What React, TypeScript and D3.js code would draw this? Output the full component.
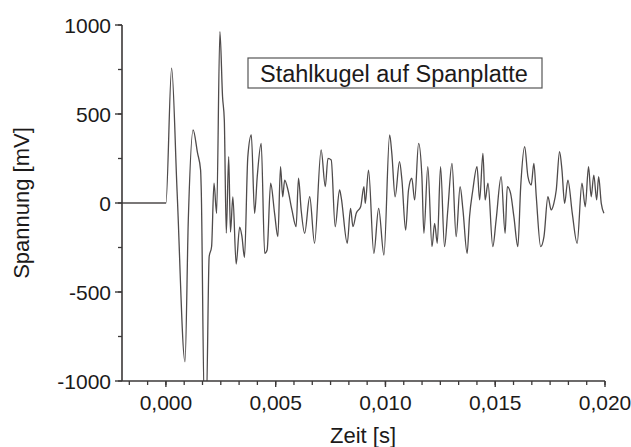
import React from "react";
import * as d3 from "d3";

// Stahlkugel auf Spanplatte – Zeit in ms, Spannung in mV
const timeMs = [
  -2.0, 0, 0.26, 0.51, 0.87, 1.02, 1.24, 1.44, 1.58, 1.61, 1.75, 1.84, 1.97, 2.08,
  2.19, 2.31, 2.46, 2.58, 2.66, 2.75, 2.86, 2.94, 3.05, 3.2, 3.36, 3.46, 3.58, 3.73,
  3.89, 4.04, 4.16, 4.34, 4.5, 4.61, 4.77, 4.95, 5.1, 5.22, 5.32, 5.41, 5.56, 5.74,
  5.93, 6.04, 6.16, 6.32, 6.55, 6.77, 7.07, 7.26, 7.38, 7.53, 7.71, 7.91, 7.98, 8.26,
  8.41, 8.52, 8.67, 8.87, 9.02, 9.08, 9.23, 9.47, 9.69, 9.93, 10.19, 10.29, 10.44,
  10.64, 10.75, 10.92, 11.05, 11.2, 11.33, 11.51, 11.66, 11.75, 11.93, 12.12, 12.24,
  12.36, 12.51, 12.69, 12.84, 13.03, 13.22, 13.4, 13.53, 13.72, 13.83, 13.98, 14.17,
  14.29, 14.44, 14.54, 14.67, 14.89, 15.04, 15.27, 15.45, 15.55, 15.7, 15.85, 16.03,
  16.16, 16.34, 16.49, 16.64, 16.76, 16.87, 17.07, 17.22, 17.4, 17.55, 17.67, 17.78,
  17.93, 18.04, 18.16, 18.31, 18.51, 18.73, 18.95, 19.1, 19.25, 19.37, 19.49, 19.62,
  19.71, 19.83, 19.95,
];

const voltage = [
  0, 0, 757, 63, -892, -96, 410, 281, 185, 73, -1150, -1150, -302, -246,
  112, -58, 962, 597, 466, -169, 260, -163, 34, -343, -135, -185, -306, 258,
  382, -58, 148, 335, -283, -264, 111, -58, -189, 204, 35, 129, 73, -39,
  -133, 139, -39, -170, 35, -226, 298, 92, 251, 242, -133, 73, 35, -226,
  -30, -133, -58, -21, 92, -2, 185, -283, -30, -292, 382, 279, 35,
  232, 129, -152, 73, 139, 17, 335, 148, -170, 204, -245, -114,
  -226, 204, -245, -39, 223, -189, 92, -39, -283, -77, 73, 204,
  17, 279, 17, 111, -245, -96, 148, -170, 92, 54, -77, -245,
  92, 316, 148, 101, 223, 35, -245, -189, 35, -39, -2, 73,
  288, 185, -2, 129, -58, -226, 111, -21, 204, 35, 157, 17,
  148, -2, -58,
];

const yMajor = [-1000, -500, 0, 500, 1000];
const yMinor = d3.range(-1000, 1001, 250);
const xMajor = [0, 0.005, 0.01, 0.015, 0.02];
const xMinor = d3.range(-2, 25).map((k) => (k * 0.005) / 6);

const legendLabel = "Stahlkugel auf Spanplatte";
const xTitle = "Zeit [s]";
const yTitle = "Spannung [mV]";

const width = 631;
const height = 447;
const font = "'Liberation Sans', Arial, sans-serif";
const axisColor = "#3b3838";

const deLocale = d3.formatLocale({
  decimal: ",",
  thousands: ".",
  grouping: [3],
  currency: ["", " €"],
});
const fmtX = deLocale.format(".3f");

const App = () => {
  const x = d3.scaleLinear().domain([-0.002, 0.02]).range([122, 605]);
  const y = d3.scaleLinear().domain([-1000, 1000]).range([381, 25]);

  const points: [number, number][] = timeMs.map((t, i) => [t / 1000, voltage[i]]);
  const line = d3
    .line<[number, number]>()
    .x((d) => x(d[0]))
    .y((d) => y(d[1]))
    .curve(d3.curveMonotoneX);

  const [x0, x1] = x.range();
  const [y0, y1] = y.range();

  return (
    <svg
      width={width}
      height={height}
      style={{ position: "absolute", left: 0, top: 0, background: "#fff" }}
      fontFamily={font}
    >
      <defs>
        <clipPath id="plot-clip">
          <rect x={x0} y={y1} width={x1 - x0 + 2} height={y0 - y1} />
        </clipPath>
      </defs>

      <path
        d={line(points) || ""}
        fill="none"
        stroke="#4f4b4b"
        strokeWidth={1.3}
        strokeLinejoin="round"
        clipPath="url(#plot-clip)"
      />

      {/* y axis */}
      <line x1={x0} x2={x0} y1={y1} y2={y0} stroke={axisColor} strokeWidth={1.6} />
      {yMinor.map((v) => (
        <line key={`ym${v}`} x1={x0 - 4} x2={x0} y1={y(v)} y2={y(v)} stroke={axisColor} strokeWidth={1.3} />
      ))}
      {yMajor.map((v) => (
        <g key={`y${v}`}>
          <line x1={x0 - 7} x2={x0} y1={y(v)} y2={y(v)} stroke={axisColor} strokeWidth={1.4} />
          <text x={x0 - 11} y={y(v)} dy="0.36em" textAnchor="end" fontSize={21} fill="#1c1a1a">
            {String(v)}
          </text>
        </g>
      ))}

      {/* x axis */}
      <line x1={x0} x2={x1} y1={y0} y2={y0} stroke={axisColor} strokeWidth={1.6} />
      {xMinor.map((t, i) => (
        <line key={`xm${i}`} x1={x(t)} x2={x(t)} y1={y0} y2={y0 + 4} stroke={axisColor} strokeWidth={1.3} />
      ))}
      {xMajor.map((t) => (
        <g key={`x${t}`}>
          <line x1={x(t)} x2={x(t)} y1={y0} y2={y0 + 6} stroke={axisColor} strokeWidth={1.4} />
          <text x={x(t)} y={410} textAnchor="middle" fontSize={21} fill="#1c1a1a">
            {fmtX(t)}
          </text>
        </g>
      ))}

      {/* titles */}
      <text x={363} y={443} textAnchor="middle" fontSize={22} fill="#1c1a1a">
        {xTitle}
      </text>
      <text
        transform={`translate(29, ${(y0 + y1) / 2}) rotate(-90)`}
        textAnchor="middle"
        fontSize={22}
        fill="#1c1a1a"
      >
        {yTitle}
      </text>

      {/* legend */}
      <rect x={248} y={58} width={294} height={30} fill="#fff" stroke="#555" strokeWidth={1.2} />
      <text x={260} y={82} fontSize={23.5} fill="#1c1a1a">
        {legendLabel}
      </text>
    </svg>
  );
};

export default App;
